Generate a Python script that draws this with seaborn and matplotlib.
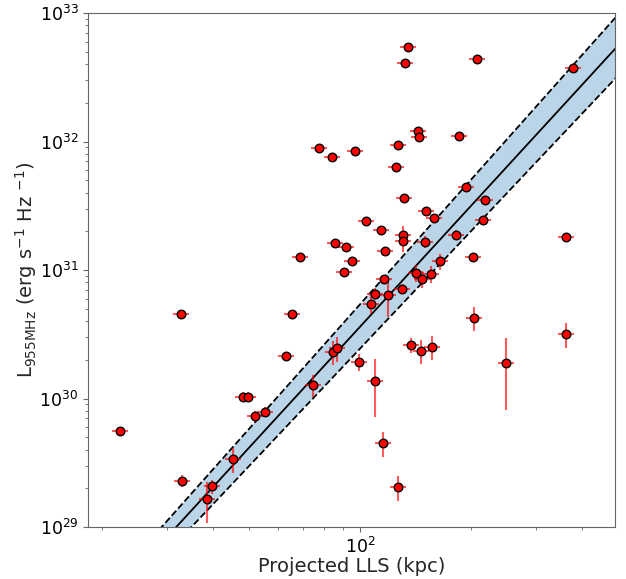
import numpy as np
import matplotlib
matplotlib.use('Agg')
import matplotlib.pyplot as plt
import matplotlib.ticker as mticker
import seaborn as sns

# projected largest linear size (kpc) and 955 MHz luminosity (erg/s/Hz)
lls = [22.4, 32.7, 65.4, 63.0, 74.6, 48.2, 49.7, 51.9, 55.3, 45.3,
       32.9, 39.7, 38.5, 84.5, 86.6, 99.4, 109.8, 115.4, 126.8, 137.5,
       146.3, 156.7, 203.7, 248.7, 361.6, 107.1, 109.8, 119.1, 129.9, 134.9,
       132.4, 207.5, 377.8, 143.7, 144.5, 185.5, 77.4, 83.9, 96.9, 126.8,
       125.2, 131.6, 193.8, 218.1, 150.9, 158.7, 215.4, 103.8, 114.0, 182.0,
       130.8, 130.8, 85.5, 91.6, 150.1, 116.9, 68.8, 95.1, 202.4, 361.6,
       164.8, 90.5, 141.8, 147.3, 155.8, 116.2]
lls_err = [1.1, 1.6, 3.3, 3.2, 3.7, 2.4, 2.5, 2.6, 2.8, 2.3,
           1.6, 2.0, 1.9, 4.2, 4.3, 5.0, 5.5, 5.8, 6.3, 6.9,
           7.3, 7.8, 10.2, 12.4, 18.1, 5.4, 5.5, 6.0, 6.5, 6.7,
           6.6, 10.4, 18.9, 7.2, 7.2, 9.3, 3.9, 4.2, 4.8, 6.3,
           6.3, 6.6, 9.7, 10.9, 7.5, 7.9, 10.8, 5.2, 5.7, 9.1,
           6.5, 6.5, 4.3, 4.6, 7.5, 5.8, 3.4, 4.8, 10.1, 18.1,
           8.2, 4.5, 7.1, 7.4, 7.8, 5.8]
lum = [5.58e29, 4.55e30, 4.55e30, 2.14e30, 1.27e30, 1.03e30, 1.03e30, 7.31e29, 7.85e29, 3.38e29,
       2.28e29, 2.08e29, 1.65e29, 2.30e30, 2.47e30, 1.92e30, 1.37e30, 4.51e29, 2.05e29, 2.61e30,
       2.34e30, 2.52e30, 4.23e30, 1.89e30, 3.18e30, 5.43e30, 6.50e30, 6.38e30, 7.11e30, 5.43e32,
       4.08e32, 4.39e32, 3.73e32, 1.21e32, 1.08e32, 1.10e32, 8.89e31, 7.57e31, 8.43e31, 9.40e31,
       6.34e31, 3.63e31, 4.42e31, 3.51e31, 2.88e31, 2.54e31, 2.45e31, 2.40e31, 2.05e31, 1.87e31,
       1.87e31, 1.68e31, 1.62e31, 1.51e31, 1.65e31, 1.41e31, 1.26e31, 1.17e31, 1.26e31, 1.81e31,
       1.17e31, 9.64e30, 9.48e30, 8.51e30, 9.31e30, 8.51e30]
lum_err = [0.28e29, 0.23e30, 0.23e30, 0.11e30, 0.25e30, 0.09e30, 0.09e30, 0.07e30, 0.07e30, 0.73e29,
           0.25e29, 0.26e29, 0.57e29, 0.49e30, 0.53e30, 0.29e30, 0.65e30, 1.0e29, 0.45e29, 0.33e30,
           0.50e30, 0.54e30, 0.9e30, 1.07e30, 0.7e30, 0.92e30, 0.7e30, 2.1e30, 0.64e30, 0.27e32,
           0.20e32, 0.22e32, 0.19e32, 0.06e32, 0.05e32, 0.06e32, 0.44e31, 0.38e31, 0.42e31, 0.47e31,
           0.32e31, 0.18e31, 0.22e31, 0.18e31, 0.14e31, 0.13e31, 0.12e31, 0.12e31, 0.10e31, 0.17e31,
           0.34e31, 0.30e31, 0.08e31, 0.08e31, 0.18e31, 0.07e31, 0.06e31, 0.06e31, 0.06e31, 0.09e31,
           0.17e31, 0.48e30, 0.14e31, 0.13e31, 0.14e31, 0.43e30]

# best fit log L = a + b log D, and the upper/lower envelope
fit_a, fit_b = 24.30, 3.13
up_a, up_b = 24.285, 3.225
lo_a, lo_b = 24.31, 3.04

sns.set_style('ticks')
plt.rcParams['font.family'] = ['DejaVu Sans']

fig = plt.figure(figsize=(6.26, 5.79), dpi=100)
ax = fig.add_axes([88/626, 52/579, 527/626, 514/579])

xx = np.logspace(np.log10(15), np.log10(600), 200)
ax.fill_between(xx, 10**(lo_a + lo_b*np.log10(xx)), 10**(up_a + up_b*np.log10(xx)),
                color='tab:blue', alpha=0.3, lw=0, zorder=1)
ax.plot(xx, 10**(fit_a + fit_b*np.log10(xx)), color='black', lw=1.3, zorder=2)
ax.plot(xx, 10**(up_a + up_b*np.log10(xx)), color='black', lw=1.3, ls='--', zorder=2)
ax.plot(xx, 10**(lo_a + lo_b*np.log10(xx)), color='black', lw=1.3, ls='--', zorder=2)

ax.errorbar(lls, lum, xerr=lls_err, yerr=lum_err, fmt='none', ecolor='red',
            elinewidth=1.5, alpha=0.65, zorder=3)
sns.scatterplot(x=lls, y=lum, ax=ax, color='red', edgecolor='black', linewidth=1,
                s=38, zorder=4, legend=False)

ax.set_xscale('log')
ax.set_yscale('log')
ax.set_xlim(18.3, 490)
ax.set_ylim(1e29, 1e33)
ax.xaxis.set_minor_formatter(mticker.NullFormatter())
ax.tick_params(labelsize=12.5, colors='0.4', labelcolor='black')
ax.tick_params(which='minor', colors='0.4')
for s in ax.spines.values():
    s.set_color('0.4')

ax.set_xlabel('Projected LLS (kpc)', fontsize=14, labelpad=0)
ax.set_ylabel(r'L$_{\mathrm{955MHz}}$ (erg s$^{-1}$ Hz $^{-1}$)', fontsize=14, labelpad=0)

fig.savefig('out.png', dpi=100)
